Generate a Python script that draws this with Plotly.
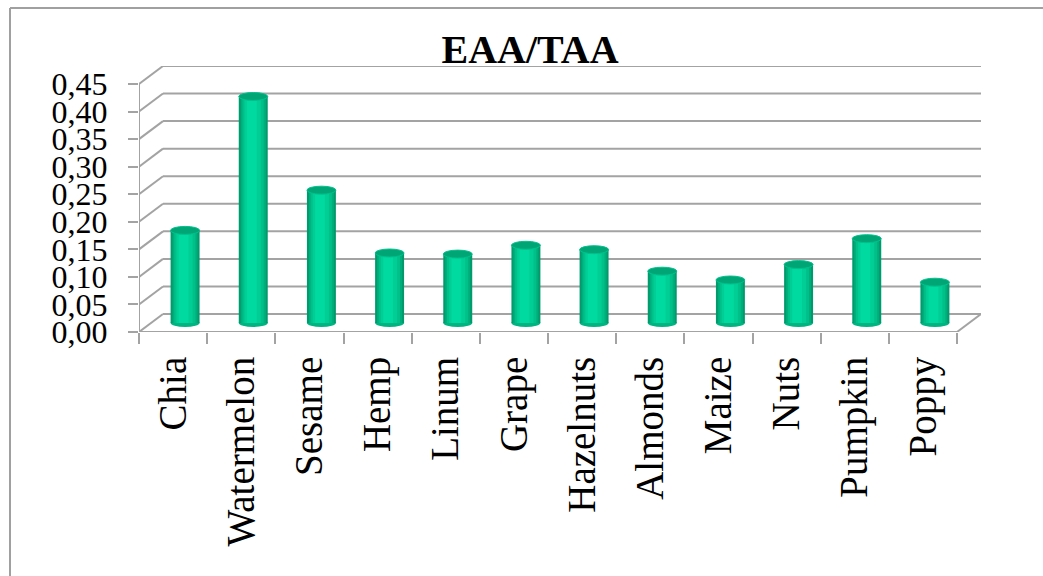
import plotly.graph_objects as go

# ---- data ----
categories = ["Chia", "Watermelon", "Sesame", "Hemp", "Linum", "Grape",
              "Hazelnuts", "Almonds", "Maize", "Nuts", "Pumpkin", "Poppy"]
values = [0.168, 0.411, 0.241, 0.127, 0.125, 0.141,
          0.133, 0.094, 0.078, 0.106, 0.153, 0.074]
tick_values = [0.00, 0.05, 0.10, 0.15, 0.20, 0.25, 0.30, 0.35, 0.40, 0.45]
tick_labels = ["0,00", "0,05", "0,10", "0,15", "0,20", "0,25", "0,30", "0,35", "0,40", "0,45"]
title_text = "EAA/TAA"

# ---- layout geometry ----
W, H = 1043, 576
ML, MR, MT, MB = 139, 62, 66, 244
plot_w = W - ML - MR
plot_h = H - MT - MB
n = len(categories)
ymax = max(tick_values)
depth_px_x, depth_px_y = 24, 18
cat_px = (plot_w - depth_px_x) / n
dxc = depth_px_x / cat_px                      # depth in category units
ppu = (plot_h - depth_px_y) / ymax             # pixels per value unit
dyv = depth_px_y / ppu                         # depth in value units
x_lo, x_hi = -0.5, n - 0.5

grid_col = "#A3A3A3"
font_family = "Liberation Serif, Times New Roman, serif"

fig = go.Figure()

# ---- cylinder bars (layered to simulate shading) ----
bar_w = 0.425
center_shift = dxc / 2
base_val = dyv / 2
left_edge = center_shift - bar_w / 2
layers = [
    (0.00, 1.00, "#009B6C"),
    (0.07, 0.93, "#00AE7C"),
    (0.13, 0.86, "#00C08A"),
    (0.20, 0.76, "#00CE95"),
    (0.28, 0.62, "#00D9A0"),
]
for fl, fr, col in layers:
    fig.add_trace(go.Bar(
        x=categories, y=values, base=[base_val] * n,
        width=(fr - fl) * bar_w, offset=left_edge + fl * bar_w,
        marker=dict(color=col, line=dict(width=0)),
        showlegend=False, hoverinfo="skip",
    ))

shapes = []
# left wall diagonals + back wall gridlines
for v in tick_values:
    shapes.append(dict(type="line", xref="x", yref="y", layer="below",
                       x0=x_lo, y0=v, x1=x_lo + dxc, y1=v + dyv,
                       line=dict(color=grid_col, width=2)))
    shapes.append(dict(type="line", xref="x", yref="y", layer="below",
                       x0=x_lo + dxc, y0=v + dyv, x1=x_hi + dxc, y1=v + dyv,
                       line=dict(color=grid_col, width=2)))
# front value axis line
shapes.append(dict(type="line", xref="x", yref="y", layer="below",
                   x0=x_lo, y0=0, x1=x_lo, y1=ymax,
                   line=dict(color=grid_col, width=2)))
# front floor edge and right floor edge
shapes.append(dict(type="line", xref="x", yref="y", layer="below",
                   x0=x_lo, y0=0, x1=x_hi, y1=0,
                   line=dict(color=grid_col, width=2)))
shapes.append(dict(type="line", xref="x", yref="y", layer="below",
                   x0=x_hi, y0=0, x1=x_hi + dxc, y1=dyv,
                   line=dict(color=grid_col, width=2)))

# cylinder bottoms and tops
eh = 8 / ppu
for i, v in enumerate(values):
    cx0 = i + left_edge
    cx1 = i + left_edge + bar_w
    shapes.append(dict(type="circle", xref="x", yref="y", layer="below",
                       x0=cx0, x1=cx1, y0=base_val - eh / 2, y1=base_val + eh / 2,
                       fillcolor="#00B482", line=dict(width=0)))
    top = base_val + v
    shapes.append(dict(type="circle", xref="x", yref="y", layer="above",
                       x0=cx0, x1=cx1, y0=top - eh / 2, y1=top + eh / 2,
                       fillcolor="#00A576", line=dict(color="#00C28C", width=1)))

# outer chart frame (left and top edges)
def px_to_paper_x(px):
    return (px - ML) / plot_w

def px_to_paper_y(py):
    return (H - MB - py) / plot_h

shapes.append(dict(type="line", xref="paper", yref="paper", layer="below",
                   x0=px_to_paper_x(10), y0=px_to_paper_y(8),
                   x1=px_to_paper_x(10), y1=px_to_paper_y(H + 5),
                   line=dict(color="#A0A0A0", width=2)))
shapes.append(dict(type="line", xref="paper", yref="paper", layer="below",
                   x0=px_to_paper_x(10), y0=px_to_paper_y(8),
                   x1=px_to_paper_x(W + 5), y1=px_to_paper_y(8),
                   line=dict(color="#A0A0A0", width=2)))

fig.update_layout(
    width=W, height=H,
    margin=dict(l=ML, r=MR, t=MT, b=MB, autoexpand=False),
    paper_bgcolor="white", plot_bgcolor="white",
    barmode="overlay",
    showlegend=False,
    shapes=shapes,
    title=dict(text="<b>" + title_text + "</b>", x=530 / W, xanchor="center",
               y=1 - 49 / H, yanchor="middle",
               font=dict(family=font_family, size=40, color="black")),
    xaxis=dict(type="category", categoryorder="array", categoryarray=categories,
               range=[x_lo, x_hi + dxc], tickson="boundaries",
               ticks="outside", ticklen=11, tickwidth=2, tickcolor=grid_col,
               tickangle=-90, ticklabelstandoff=16,
               tickfont=dict(family=font_family, size=39, color="black"),
               showgrid=False, showline=False, zeroline=False, fixedrange=True),
    yaxis=dict(range=[0, ymax + dyv], tickmode="array",
               tickvals=tick_values, ticktext=tick_labels,
               ticks="outside", ticklen=10, tickwidth=2, tickcolor=grid_col,
               ticklabelstandoff=14,
               tickfont=dict(family=font_family, size=32, color="black"),
               showgrid=False, showline=False, zeroline=False, fixedrange=True),
)

fig.write_html("out.html")
